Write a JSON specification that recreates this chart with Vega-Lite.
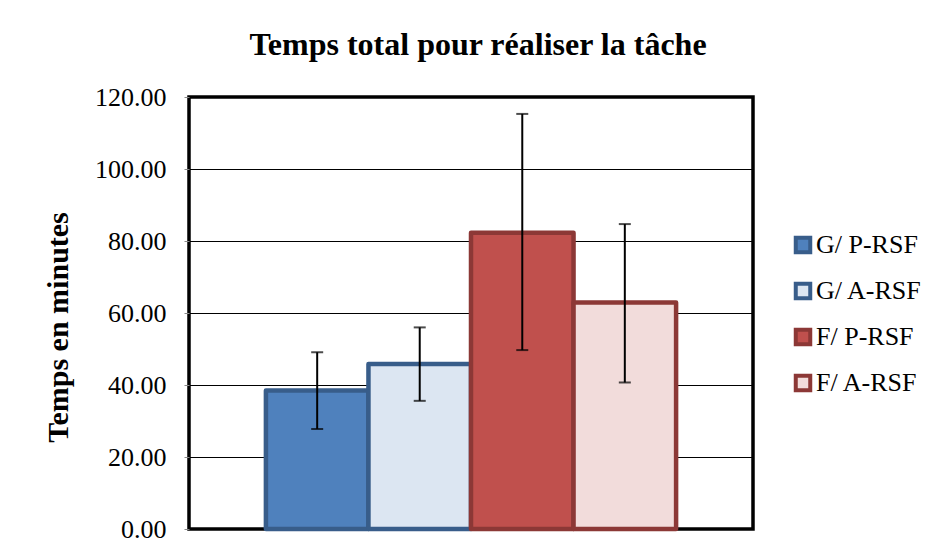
{
  "$schema": "https://vega.github.io/schema/vega-lite/v6.json",
  "width": 564,
  "height": 432,
  "autosize": {"type": "none"},
  "padding": {"left": 189, "top": 97, "right": 186, "bottom": 26},
  "background": "white",
  "title": {
    "text": "Temps total pour réaliser la tâche",
    "font": "Liberation Serif",
    "fontSize": 32,
    "fontWeight": "bold",
    "color": "black",
    "anchor": "middle",
    "baseline": "alphabetic",
    "offset": -3,
    "dx": 7
  },
  "config": {
    "view": {"stroke": "black", "strokeWidth": 3.5},
    "font": "Liberation Serif",
    "legend": {"labelFont": "Liberation Serif", "labelFontSize": 26, "labelColor": "black"}
  },
  "data": {
    "values": [
      {"serie": "G/ P-RSF", "moyenne": 38.5, "bas": 27.8, "haut": 49.1},
      {"serie": "G/ A-RSF", "moyenne": 45.8, "bas": 35.6, "haut": 56.0},
      {"serie": "F/ P-RSF", "moyenne": 82.3, "bas": 49.7, "haut": 115.3},
      {"serie": "F/ A-RSF", "moyenne": 62.9, "bas": 40.7, "haut": 84.7}
    ]
  },
  "encoding": {
    "x": {
      "field": "serie",
      "type": "nominal",
      "sort": ["G/ P-RSF", "G/ A-RSF", "F/ P-RSF", "F/ A-RSF"],
      "scale": {"paddingInner": 0, "paddingOuter": 0.75},
      "axis": null
    }
  },
  "layer": [
    {
      "mark": {"type": "bar", "strokeWidth": 4.5, "strokeJoin": "round"},
      "encoding": {
        "y": {
          "field": "moyenne",
          "type": "quantitative",
          "scale": {"domain": [0, 120], "nice": false},
          "axis": {
            "values": [0, 20, 40, 60, 80, 100, 120],
            "format": ".2f",
            "labelFont": "Liberation Serif",
            "labelFontSize": 26,
            "labelColor": "black",
            "labelPadding": 18,
            "tickSize": 5,
            "tickColor": "#888888",
            "domain": false,
            "grid": true,
            "gridColor": "black",
            "gridOpacity": 1,
            "gridWidth": 1.2,
            "title": "Temps en minutes",
            "titleFont": "Liberation Serif",
            "titleFontSize": 30,
            "titleFontWeight": "bold",
            "titleColor": "black",
            "titlePadding": 21,
            "titleY": 230
          }
        },
        "fill": {
          "field": "serie",
          "type": "nominal",
          "sort": ["G/ P-RSF", "G/ A-RSF", "F/ P-RSF", "F/ A-RSF"],
          "scale": {
            "domain": ["G/ P-RSF", "G/ A-RSF", "F/ P-RSF", "F/ A-RSF"],
            "range": ["#4F81BD", "#DCE6F2", "#C0504D", "#F2DCDB"]
          },
          "legend": {
            "title": null,
            "orient": "none",
            "legendX": 601,
            "legendY": 135,
            "symbolType": "square",
            "symbolSize": 210,
            "symbolStrokeWidth": 4,
            "labelFont": "Liberation Serif",
            "labelFontSize": 26,
            "labelColor": "black",
            "labelOffset": 0,
            "rowPadding": 14,
            "padding": 0
          }
        },
        "stroke": {
          "field": "serie",
          "type": "nominal",
          "sort": ["G/ P-RSF", "G/ A-RSF", "F/ P-RSF", "F/ A-RSF"],
          "scale": {
            "domain": ["G/ P-RSF", "G/ A-RSF", "F/ P-RSF", "F/ A-RSF"],
            "range": ["#385D8A", "#385D8A", "#8C3836", "#8C3836"]
          },
          "legend": {
            "title": null,
            "orient": "none",
            "legendX": 601,
            "legendY": 135,
            "symbolType": "square",
            "symbolSize": 210,
            "symbolStrokeWidth": 4,
            "labelFont": "Liberation Serif",
            "labelFontSize": 26,
            "labelColor": "black",
            "labelOffset": 0,
            "rowPadding": 14,
            "padding": 0
          }
        }
      }
    },
    {
      "mark": {"type": "rule", "color": "black", "strokeWidth": 2},
      "encoding": {
        "y": {"field": "bas", "type": "quantitative"},
        "y2": {"field": "haut"}
      }
    },
    {
      "mark": {"type": "tick", "color": "black", "thickness": 2, "size": 12},
      "encoding": {
        "y": {"field": "bas", "type": "quantitative"}
      }
    },
    {
      "mark": {"type": "tick", "color": "black", "thickness": 2, "size": 12},
      "encoding": {
        "y": {"field": "haut", "type": "quantitative"}
      }
    }
  ]
}
